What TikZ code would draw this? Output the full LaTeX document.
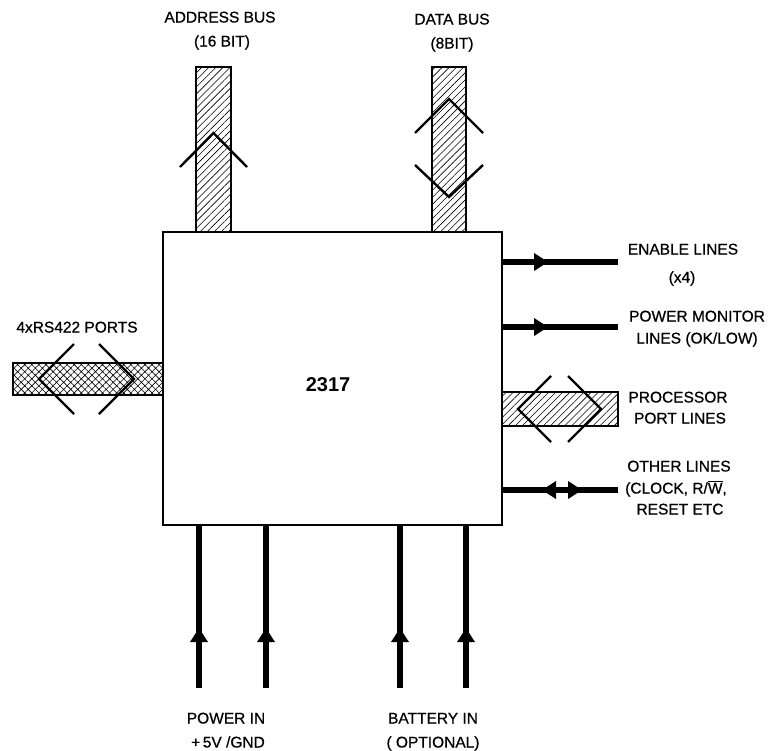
\documentclass[tikz,border=0pt]{standalone}
\usepackage{fontspec}
\setmainfont{Liberation Sans}
\newfontfamily\lblfont{Liberation Sans}[FakeBold=0.6]
\usetikzlibrary{patterns.meta,arrows.meta,decorations.markings}
\begin{document}
\begin{tikzpicture}[x=1pt,y=-1pt,
  lbl/.style={font=\lblfont\fontsize{15.5}{17}\selectfont, inner sep=0pt, text height=11pt, text depth=0pt, anchor=center},
  chip/.style={draw, line width=1.4pt, fill=white, inner sep=0pt, outer sep=0pt},
  busbar/.style={draw, line width=1.1pt, inner sep=0pt, outer sep=0pt, pattern={Lines[angle=45,distance=5pt,line width=0.6pt]}},
  xbar/.style={draw, line width=1.1pt, inner sep=0pt, outer sep=0pt, pattern={Hatch[angle=45,distance=5pt,line width=0.6pt]}},
  chev/.style={line width=2.4pt},
  wire/.style={line width=5.5pt},
  fwd/.style={postaction={decorate,decoration={markings,mark=at position #1 with {\arrow{Triangle[length=14pt,width=17pt]}}}}},
  bwd/.style={postaction={decorate,decoration={markings,mark=at position #1 with {\arrowreversed{Triangle[length=14pt,width=17pt]}}}}},
]
\fill[white] (0,0) rectangle (775,750);
\useasboundingbox (0,0) rectangle (775,750);

% buses
\node[busbar, minimum width=35pt, minimum height=165pt, anchor=south] (abus) at (213.5,232) {};
\node[busbar, minimum width=34pt, minimum height=165pt, anchor=south] (dbus) at (449,232) {};
\node[xbar, minimum width=150pt, minimum height=32pt, anchor=east] (rsbus) at (163,379) {};
\node[busbar, minimum width=116pt, minimum height=34pt, anchor=west] (ppbus) at (502,409) {};

% chip
\node[chip, minimum width=339pt, minimum height=293pt] (chip) at (332.5,378.5) {};
\node[font=\fontsize{20}{22}\selectfont\bfseries, inner sep=0pt] (chiplbl) at (328,385) {2317};

% chevrons
\draw[chev] (180,167) -- (213.5,133) -- (247,167);
\draw[chev] (415,133) -- (449,99) -- (483,133);
\draw[chev] (415,165) -- (449,197) -- (483,165);
\draw[chev] (74,344) -- (39,379) -- (74,414);
\draw[chev] (99,344) -- (134,379) -- (99,414);
\draw[chev] (551,376) -- (518,409) -- (551,442);
\draw[chev] (568,376) -- (601,409) -- (568,442);

% right wires
\coordinate (enE) at (618,262);
\coordinate (pmE) at (618,327);
\coordinate (olE) at (618,490);
\draw[wire,fwd=0.397] (enE -| chip.east) -- (enE);
\draw[wire,fwd=0.397] (pmE -| chip.east) -- (pmE);
\draw[wire,bwd=0.345,fwd=0.69] (olE -| chip.east) -- (olE);

% bottom wires
\coordinate (p1) at (199,688);
\coordinate (p2) at (266,688);
\coordinate (b1) at (400,688);
\coordinate (b2) at (466,688);
\draw[wire,fwd=0.368] (p1) -- (p1 |- chip.south);
\draw[wire,fwd=0.368] (p2) -- (p2 |- chip.south);
\draw[wire,fwd=0.368] (b1) -- (b1 |- chip.south);
\draw[wire,fwd=0.368] (b2) -- (b2 |- chip.south);

% labels
\node[lbl] (ab1) at (220,17) {ADDRESS BUS};
\node[lbl] (ab2) at (222,41) {(16 BIT)};
\node[lbl] (db1) at (452,19) {DATA BUS};
\node[lbl] (db2) at (452,43) {(8BIT)};
\node[lbl] (rs) at (77,327) {4xRS422 PORTS};
\node[lbl] (en1) at (683,249) {ENABLE LINES};
\node[lbl] (en2) at (682,277) {(x4)};
\node[lbl] (pm1) at (697,316) {POWER MONITOR};
\node[lbl] (pm2) at (697,338) {LINES (OK/LOW)};
\node[lbl] (pp1) at (678,397) {PROCESSOR};
\node[lbl] (pp2) at (680,418) {PORT LINES};
\node[lbl] (ol1) at (679,466) {OTHER LINES};
\node[lbl] (ol2) at (676,488) {(CLOCK, R/$\overline{\mbox{W}}$,};
\node[lbl] (ol3) at (680,509) {RESET ETC};
\node[lbl] (pw1) at (226,718) {POWER IN};
\node[lbl] (pw2) at (228,742) {+\,5V /GND};
\node[lbl] (bt1) at (433,718) {BATTERY IN};
\node[lbl] (bt2) at (433,742) {( OPTIONAL)};
\end{tikzpicture}
\end{document}
